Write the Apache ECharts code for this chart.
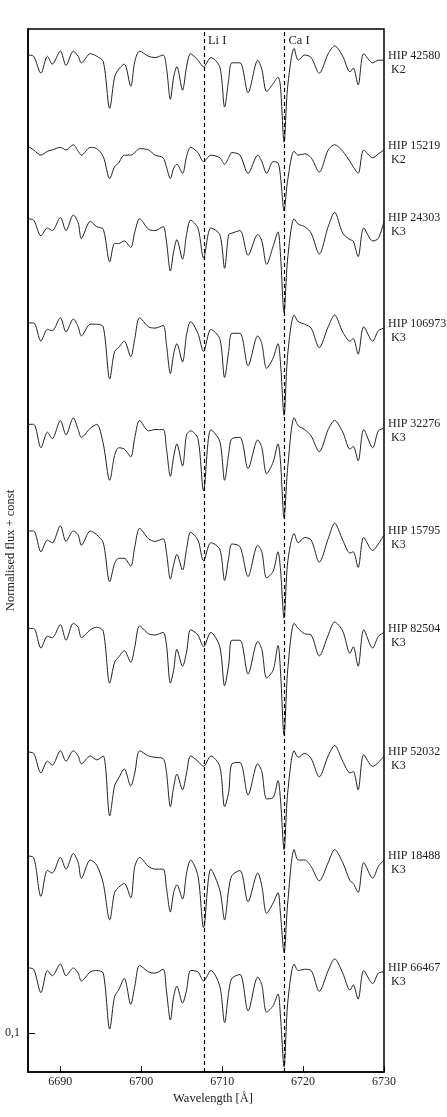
<!DOCTYPE html>
<html>
<head>
<meta charset="utf-8">
<script src="https://cdn.jsdelivr.net/npm/echarts@6/dist/echarts.min.js"></script>
<style>
  html, body { margin: 0; padding: 0; background: #fff; }
  #chart { width: 447px; height: 1117px; }
</style>
</head>
<body>
<div id="chart"></div>
<script>
// wavelength grid [Å], shared by all spectra
const wavelength = [6686.0, 6686.7, 6687.6, 6688.4, 6689.0, 6690.0, 6690.7, 6691.6, 6692.2, 6692.6,
  6693.7, 6694.5, 6695.3, 6696.1, 6696.7, 6697.2, 6697.9, 6698.7, 6699.2, 6699.8,
  6700.9, 6701.7, 6702.7, 6703.1, 6703.6, 6704.0, 6704.4, 6705.1, 6705.6, 6706.1,
  6707.0, 6707.7, 6708.6, 6709.7, 6710.3, 6710.8, 6711.2, 6712.2, 6713.2, 6714.4,
  6714.9, 6715.5, 6716.3, 6716.9, 6717.2, 6717.65, 6718.1, 6718.9, 6719.4, 6720.2,
  6721.0, 6722.0, 6723.1, 6723.9, 6724.9, 6725.8, 6726.2, 6726.8, 6727.5, 6728.6,
  6729.3, 6730.0]

const stars = ['HIP 42580', 'HIP 15219', 'HIP 24303', 'HIP 106973', 'HIP 32276',
  'HIP 15795', 'HIP 82504', 'HIP 52032', 'HIP 18488', 'HIP 66467']
const spType = ['K2', 'K2', 'K3', 'K3', 'K3', 'K3', 'K3', 'K3', 'K3', 'K3']
// vertical shift added to each normalised spectrum
const offsets = [6.66, 5.93, 5.38, 4.61, 3.82, 2.99, 2.24, 1.28, 0.49, -0.36]

// normalised flux, one array per star
const flux42580 = [0.96, 0.95, 0.82, 0.95, 0.89, 0.99, 0.88, 0.99, 0.95, 0.90,
  0.97, 0.95, 0.91, 0.55, 0.79, 0.85, 0.89, 0.72, 0.91, 0.99,
  0.95, 0.94, 0.96, 0.87, 0.62, 0.79, 0.87, 0.69, 0.87, 0.97,
  0.92, 0.87, 0.94, 0.87, 0.56, 0.77, 0.90, 0.90, 0.67, 0.92,
  0.85, 0.68, 0.74, 0.79, 0.72, 0.29, 0.72, 1.01, 0.92, 0.96,
  0.94, 0.82, 0.97, 1.03, 0.95, 0.83, 0.86, 0.73, 0.97, 0.90, 0.92, 0.92]
const flux15219 = [0.99, 0.96, 0.92, 0.95, 0.96, 0.98, 0.96, 1.00, 0.95, 0.92,
  0.98, 0.97, 0.91, 0.74, 0.83, 0.86, 0.92, 0.92, 0.94, 0.97,
  0.96, 0.92, 0.90, 0.83, 0.74, 0.82, 0.85, 0.78, 0.91, 0.98,
  0.94, 0.87, 0.92, 0.90, 0.85, 0.90, 0.94, 0.92, 0.78, 0.92,
  0.87, 0.78, 0.87, 0.86, 0.76, 0.49, 0.73, 0.95, 0.92, 0.93,
  0.90, 0.79, 0.96, 1.00, 0.95, 0.87, 0.83, 0.78, 0.96, 0.90, 0.93, 0.96]
const flux24303 = [0.98, 0.97, 0.85, 0.91, 0.89, 0.99, 0.89, 1.01, 0.95, 0.83,
  0.96, 0.92, 0.90, 0.65, 0.79, 0.79, 0.81, 0.76, 0.88, 0.98,
  0.90, 0.89, 0.92, 0.81, 0.58, 0.73, 0.82, 0.67, 0.86, 0.97,
  0.91, 0.68, 0.91, 0.86, 0.60, 0.86, 0.87, 0.89, 0.70, 0.86,
  0.81, 0.63, 0.77, 0.88, 0.71, 0.26, 0.68, 0.98, 0.94, 0.92,
  0.87, 0.71, 0.92, 1.03, 0.87, 0.82, 0.81, 0.69, 0.91, 0.81, 0.83, 0.96]
const flux106973 = [0.95, 0.95, 0.81, 0.90, 0.89, 0.99, 0.88, 0.98, 0.92, 0.85,
  0.94, 0.94, 0.92, 0.52, 0.73, 0.76, 0.81, 0.69, 0.83, 0.99,
  0.92, 0.91, 0.93, 0.79, 0.56, 0.71, 0.79, 0.65, 0.86, 0.96,
  0.87, 0.73, 0.90, 0.83, 0.53, 0.73, 0.87, 0.87, 0.62, 0.85,
  0.79, 0.60, 0.68, 0.79, 0.65, 0.24, 0.71, 1.01, 0.96, 0.94,
  0.91, 0.76, 0.92, 1.01, 0.88, 0.81, 0.83, 0.71, 0.92, 0.81, 0.89, 0.91]
const flux32276 = [0.96, 0.96, 0.78, 0.90, 0.85, 0.99, 0.88, 1.01, 0.92, 0.86,
  0.93, 0.96, 0.81, 0.53, 0.72, 0.78, 0.77, 0.71, 0.86, 0.99,
  0.91, 0.92, 0.92, 0.78, 0.56, 0.71, 0.81, 0.64, 0.88, 0.91,
  0.85, 0.45, 0.92, 0.83, 0.53, 0.73, 0.85, 0.86, 0.62, 0.84,
  0.78, 0.58, 0.67, 0.81, 0.68, 0.24, 0.63, 1.01, 0.95, 0.92,
  0.87, 0.75, 0.92, 0.99, 0.90, 0.77, 0.79, 0.68, 0.92, 0.78, 0.91, 0.93]
const flux15795 = [0.97, 0.97, 0.81, 0.90, 0.88, 1.01, 0.89, 0.97, 0.94, 0.86,
  0.97, 0.94, 0.88, 0.58, 0.72, 0.76, 0.76, 0.70, 0.85, 0.99,
  0.91, 0.89, 0.91, 0.81, 0.60, 0.71, 0.79, 0.67, 0.83, 0.96,
  0.90, 0.74, 0.88, 0.83, 0.59, 0.76, 0.87, 0.85, 0.62, 0.86,
  0.81, 0.61, 0.66, 0.81, 0.68, 0.30, 0.73, 0.95, 0.88, 0.92,
  0.90, 0.73, 0.91, 1.03, 0.90, 0.80, 0.81, 0.69, 0.92, 0.82, 0.87, 0.94]
const flux82504 = [0.97, 0.97, 0.82, 0.91, 0.90, 1.00, 0.88, 1.01, 0.98, 0.90,
  0.96, 0.98, 0.95, 0.55, 0.71, 0.75, 0.80, 0.71, 0.83, 0.99,
  0.93, 0.92, 0.94, 0.85, 0.55, 0.65, 0.81, 0.68, 0.79, 0.96,
  0.92, 0.83, 0.94, 0.83, 0.53, 0.69, 0.88, 0.88, 0.62, 0.87,
  0.81, 0.59, 0.65, 0.84, 0.65, 0.15, 0.65, 1.01, 0.97, 0.93,
  0.92, 0.76, 0.92, 1.02, 0.95, 0.78, 0.83, 0.68, 0.96, 0.82, 0.91, 0.94]
const flux52032 = [0.98, 0.97, 0.82, 0.91, 0.88, 0.99, 0.91, 0.99, 0.95, 0.89,
  0.95, 0.92, 0.95, 0.49, 0.72, 0.78, 0.85, 0.72, 0.82, 0.99,
  0.95, 0.94, 0.93, 0.83, 0.56, 0.71, 0.81, 0.69, 0.82, 0.95,
  0.91, 0.87, 0.95, 0.87, 0.56, 0.67, 0.89, 0.90, 0.65, 0.89,
  0.83, 0.62, 0.63, 0.76, 0.62, 0.23, 0.67, 0.99, 0.94, 0.97,
  0.93, 0.79, 0.95, 1.03, 0.91, 0.82, 0.83, 0.69, 0.96, 0.87, 0.90, 0.95]
const flux18488 = [0.97, 0.96, 0.66, 0.86, 0.84, 0.96, 0.87, 0.99, 0.92, 0.80,
  0.94, 0.90, 0.76, 0.48, 0.69, 0.73, 0.76, 0.65, 0.89, 0.96,
  0.89, 0.87, 0.87, 0.73, 0.54, 0.69, 0.75, 0.64, 0.84, 0.94,
  0.82, 0.42, 0.87, 0.71, 0.48, 0.71, 0.82, 0.86, 0.62, 0.84,
  0.74, 0.53, 0.61, 0.69, 0.53, 0.23, 0.61, 1.02, 0.94, 0.94,
  0.89, 0.78, 0.92, 1.02, 0.92, 0.78, 0.76, 0.69, 0.92, 0.80, 0.89, 0.94]
const flux66467 = [0.96, 0.95, 0.77, 0.94, 0.90, 0.99, 0.90, 0.96, 0.92, 0.86,
  0.93, 0.94, 0.92, 0.49, 0.74, 0.79, 0.88, 0.68, 0.82, 0.98,
  0.93, 0.92, 0.95, 0.79, 0.56, 0.74, 0.82, 0.69, 0.79, 0.94,
  0.93, 0.86, 0.94, 0.82, 0.54, 0.77, 0.88, 0.91, 0.63, 0.89,
  0.83, 0.62, 0.67, 0.76, 0.59, 0.20, 0.69, 0.99, 0.94, 0.95,
  0.94, 0.78, 0.94, 1.03, 0.92, 0.79, 0.83, 0.72, 0.94, 0.84, 0.92, 0.93]

const fluxes = [flux42580, flux15219, flux24303, flux106973, flux32276,
  flux15795, flux82504, flux52032, flux18488, flux66467]

// marked lines
const lineNames = ['Li I', 'Ca I']
const lineCentres = [6707.75, 6717.7]
const lineLabelLevel = 7.73

const xTicks = [6690, 6700, 6710, 6720, 6730]
const yTicks = [0.1]

const font = 'Liberation Serif'
const ink = '#222'

const chart = echarts.init(document.getElementById('chart'))

const series = stars.map((name, k) => ({
  name: name,
  type: 'line',
  smooth: 0.3,
  showSymbol: false,
  silent: true,
  animation: false,
  lineStyle: { color: ink, width: 1 },
  data: wavelength.map((w, i) => [w, +(fluxes[k][i] + offsets[k]).toFixed(3)]),
  endLabel: {
    show: true,
    distance: 4,
    offset: [0, 3],
    align: 'left',
    verticalAlign: 'middle',
    formatter: () => name + '\n ' + spType[k],
    fontFamily: font,
    fontSize: 12,
    lineHeight: 14,
    color: ink
  }
}))

series[0].markLine = {
  silent: true,
  symbol: 'none',
  animation: false,
  label: { show: false },
  lineStyle: { color: '#000', type: [4, 3], width: 1.2 },
  data: lineCentres.map(c => ({ xAxis: c }))
}
series[0].markPoint = {
  silent: true,
  symbol: 'circle',
  symbolSize: 0,
  animation: false,
  label: {
    show: true,
    position: 'right',
    distance: 4,
    formatter: '{b}',
    fontFamily: font,
    fontSize: 12.5,
    color: ink
  },
  data: lineNames.map((n, i) => ({ name: n, coord: [lineCentres[i], lineLabelLevel] }))
}

chart.setOption({
  backgroundColor: '#fff',
  animation: false,
  grid: {
    left: 28,
    right: 63,
    top: 29,
    bottom: 45,
    containLabel: false,
    outerBoundsMode: 'none',
    show: true,
    borderColor: '#000',
    borderWidth: 1.5,
    backgroundColor: 'transparent'
  },
  xAxis: {
    type: 'value',
    min: 6686,
    max: 6730,
    name: 'Wavelength [Å]',
    nameLocation: 'middle',
    nameGap: 20,
    nameMoveOverlap: false,
    nameTextStyle: { fontFamily: font, fontSize: 12.5, color: ink, padding: [0, 0, 0, 14] },
    axisLine: { onZero: false, lineStyle: { color: '#000', width: 1.5 } },
    axisTick: { inside: true, length: 6, customValues: xTicks, lineStyle: { color: '#000', width: 1 } },
    axisLabel: {
      customValues: xTicks,
      margin: 4,
      fontFamily: font,
      fontSize: 12,
      color: ink,
      formatter: v => String(v)
    },
    splitLine: { show: false }
  },
  yAxis: {
    type: 'value',
    min: -0.2,
    max: 7.82,
    name: 'Normalised flux + const',
    nameLocation: 'middle',
    nameGap: 11,
    nameMoveOverlap: false,
    nameTextStyle: { fontFamily: font, fontSize: 12.5, color: ink },
    axisLine: { show: true, onZero: false, lineStyle: { color: '#000', width: 1.5 } },
    axisTick: { show: true, inside: true, length: 7, customValues: yTicks, lineStyle: { color: '#000', width: 1 } },
    axisLabel: {
      customValues: yTicks,
      margin: 8,
      fontFamily: font,
      fontSize: 12,
      color: ink,
      formatter: v => v.toFixed(1).replace('.', ',')
    },
    splitLine: { show: false }
  },
  series: series
})
</script>
</body>
</html>
